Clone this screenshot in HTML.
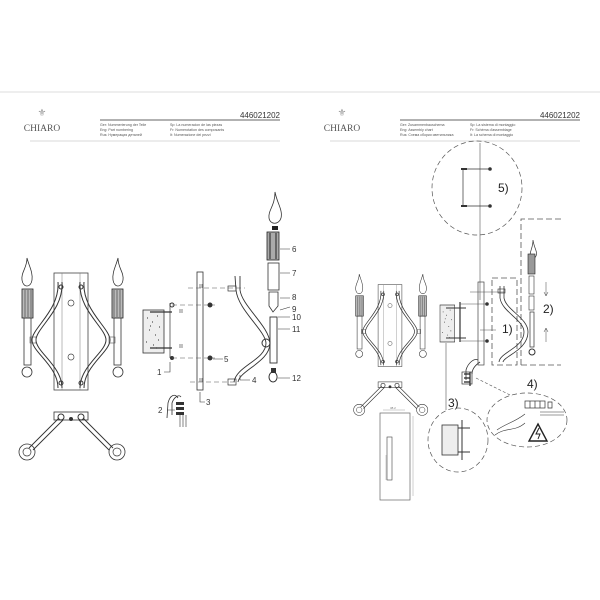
<!DOCTYPE html>
<html><head><meta charset="utf-8"><style>html,body{margin:0;padding:0;background:#fff}svg{display:block}</style></head>
<body>
<svg width="600" height="600" viewBox="0 0 600 600" xmlns="http://www.w3.org/2000/svg" font-family="Liberation Sans, sans-serif">
<defs>
<g id="front">
  <rect x="54" y="273" width="34" height="117" fill="none" stroke="#444" stroke-width="0.8"/>
  <line x1="62" y1="273" x2="62" y2="390" stroke="#777" stroke-width="0.5"/>
  <line x1="80" y1="273" x2="80" y2="390" stroke="#777" stroke-width="0.5"/>
  <circle cx="71" cy="303" r="3" fill="none" stroke="#444" stroke-width="0.7"/>
  <circle cx="71" cy="357" r="3" fill="none" stroke="#444" stroke-width="0.7"/>
  <path d="M58 282 C60 310,32 328,32 340 C32 352,58 366,58 388" fill="none" stroke="#333" stroke-width="1"/>
  <path d="M62 282 C64 310,36 328,36 340 C36 352,62 366,62 388" fill="none" stroke="#333" stroke-width="1"/>
  <path d="M84 282 C82 310,110 328,110 340 C110 352,84 366,84 388" fill="none" stroke="#333" stroke-width="1"/>
  <path d="M80 282 C78 310,106 328,106 340 C106 352,80 366,80 388" fill="none" stroke="#333" stroke-width="1"/>
  <circle cx="61" cy="287" r="2" fill="none" stroke="#333"/><circle cx="81" cy="287" r="2" fill="none" stroke="#333"/>
  <circle cx="61" cy="383" r="2" fill="none" stroke="#333"/><circle cx="81" cy="383" r="2" fill="none" stroke="#333"/>
  <g id="cand">
    <path d="M27 258 C29 266,33 272,32 280 C31 288,23 288,22 280 C21 272,27 268,27 258Z" fill="none" stroke="#333" stroke-width="0.8"/>
    <rect x="22" y="289" width="11" height="29" fill="#bbb" stroke="#222" stroke-width="0.8"/>
    <line x1="25" y1="290" x2="25" y2="317" stroke="#333" stroke-width="0.6"/><line x1="28" y1="290" x2="28" y2="317" stroke="#333" stroke-width="0.6"/><line x1="31" y1="290" x2="31" y2="317" stroke="#333" stroke-width="0.6"/>
    <rect x="24" y="318" width="7" height="47" fill="none" stroke="#333" stroke-width="0.8"/>
    <circle cx="27" cy="372" r="5" fill="none" stroke="#333" stroke-width="0.8"/>
    <rect x="30" y="337" width="6" height="6" fill="none" stroke="#555" stroke-width="0.6"/>
  </g>
  <use href="#cand" transform="translate(145,0) scale(-1,1)"/>
</g>
<g id="bottom">
  <rect x="54" y="412" width="34" height="8" fill="none" stroke="#333" stroke-width="0.8"/>
  <circle cx="61" cy="417" r="3" fill="none" stroke="#333"/><circle cx="81" cy="417" r="3" fill="none" stroke="#333"/><circle cx="71" cy="419" r="2" fill="#333"/>
  <path d="M59 418 L29 448 M63 420 L33 450 M83 418 L113 448 M79 420 L109 450" stroke="#333" stroke-width="0.9"/>
  <circle cx="27" cy="452" r="8" fill="none" stroke="#333" stroke-width="0.8"/><circle cx="27" cy="452" r="4" fill="none" stroke="#333" stroke-width="0.7"/>
  <circle cx="117" cy="452" r="8" fill="none" stroke="#333" stroke-width="0.8"/><circle cx="117" cy="452" r="4" fill="none" stroke="#333" stroke-width="0.7"/>
</g>
<g id="box">
  <rect x="143" y="310" width="21" height="43" fill="#eee" stroke="#333" stroke-width="0.8"/>
  <path d="M147 318h1M152 322h1M157 316h1M149 330h1M155 335h1M159 327h1M146 342h1M153 345h1M158 340h1M150 326h1M156 348h1" stroke="#555" stroke-width="1.2"/>
</g>
<g id="head">
  <line x1="0" y1="92" x2="300" y2="92" stroke="#ddd" stroke-width="1"/>
  <text x="42" y="116" font-size="10" fill="#999" text-anchor="middle">⚜</text>
  <text x="42" y="131" font-size="9.5" fill="#555" text-anchor="middle" font-family="Liberation Serif, serif">CHIARO</text>
  <line x1="100" y1="120" x2="280" y2="120" stroke="#333" stroke-width="0.8"/>
  <text x="280" y="118" font-size="8" fill="#333" text-anchor="end">446021202</text>
  <line x1="30" y1="141" x2="280" y2="141" stroke="#ccc" stroke-width="0.7"/>
</g>
</defs>

<use href="#head"/>
<text font-size="3.6" fill="#555"><tspan x="100" y="126">Ger: Nummerierung der Teile</tspan><tspan x="100" y="131">Eng: Part numbering</tspan><tspan x="100" y="136">Rus: Нумерация деталей</tspan><tspan x="170" y="126">Sp: La numeracion de las piezas</tspan><tspan x="170" y="131">Fr: Numerotation des composants</tspan><tspan x="170" y="136">It: Numerazione dei pezzi</tspan></text>
<use href="#head" transform="translate(300,0)"/>
<text font-size="3.6" fill="#555"><tspan x="400" y="126">Ger: Zusammenbauschema</tspan><tspan x="400" y="131">Eng: Assembly chart</tspan><tspan x="400" y="136">Rus: Схема сборки светильника</tspan><tspan x="470" y="126">Sp: La sistema di montaggio</tspan><tspan x="470" y="131">Fr: Schéma d'assemblage</tspan><tspan x="470" y="136">It: La schema di montaggio</tspan></text>

<!-- left page -->
<use href="#front"/>
<use href="#bottom"/>
<!-- exploded -->
<rect x="197" y="272" width="6" height="118" fill="none" stroke="#333" stroke-width="0.8"/>
<use href="#box"/>
<line x1="170" y1="303" x2="170" y2="358" stroke="#333" stroke-width="0.7"/>
<circle cx="172" cy="305" r="2" fill="none" stroke="#333"/><circle cx="172" cy="358" r="2" fill="#333"/>
<path d="M150 312h22M150 348h22" stroke="#333" stroke-width="1.2"/>
<g stroke="#555" stroke-width="0.6" stroke-dasharray="5,3" fill="none">
  <line x1="188" y1="288" x2="245" y2="288"/><line x1="172" y1="305" x2="215" y2="305"/><line x1="172" y1="358" x2="215" y2="358"/><line x1="190" y1="382" x2="235" y2="382"/>
</g>
<circle cx="210" cy="305" r="2.5" fill="#333"/><circle cx="210" cy="358" r="2.5" fill="#333"/>
<path d="M180 313v-4M182 313v-4M180 348v-4M182 348v-4M200 288v-4M202 288v-4M200 382v-4M202 382v-4" stroke="#333" stroke-width="0.6"/>
<path d="M235 276 L236 290 C238 310,265 330,266 343 C266 360,236 366,234 382" fill="none" stroke="#333" stroke-width="0.9"/>
<path d="M240 276 L240 290 C242 306,269 326,270 343 C270 362,240 370,238 382" fill="none" stroke="#333" stroke-width="0.9"/>
<rect x="228" y="286" width="8" height="5" fill="none" stroke="#333" stroke-width="0.7"/><rect x="228" y="379" width="8" height="6" fill="none" stroke="#333" stroke-width="0.7"/>
<circle cx="266" cy="343" r="4" fill="none" stroke="#333"/>
<path d="M275 192 C277 203,283 210,281 218 C279 225,270 225,269 218 C268 210,275 206,275 192Z" fill="none" stroke="#333" stroke-width="0.8"/>
<rect x="272" y="226" width="6" height="4" fill="#222"/>
<rect x="267" y="232" width="12" height="28" fill="#aaa" stroke="#222" stroke-width="0.8"/>
<line x1="270" y1="233" x2="270" y2="259" stroke="#222"/><line x1="276" y1="233" x2="276" y2="259" stroke="#222"/>
<rect x="268" y="263" width="11" height="27" fill="none" stroke="#333" stroke-width="0.8"/>
<path d="M269 292 L278 292 L278 306 L273 312 L269 306Z" fill="none" stroke="#333" stroke-width="0.8"/>
<rect x="270" y="317" width="7" height="46" fill="none" stroke="#333" stroke-width="0.9"/>
<path d="M273 372 a4 5 0 1 0 0.1 0" fill="none" stroke="#333"/><rect x="271" y="368" width="5" height="5" fill="#333"/>
<path d="M178 398 c-3 -5,-8 -3,-10 5 l-1 15 M181 397 c-2 -3,-7 0,-9 6 l0 12" fill="none" stroke="#333" stroke-width="0.8"/>
<rect x="176" y="402" width="8" height="3" fill="#333"/><rect x="176" y="407" width="8" height="3" fill="#333"/><rect x="176" y="412" width="8" height="3" fill="#333"/>
<path d="M180 415v12M183 415v12M186 415v12" stroke="#333" stroke-width="0.6"/>
<g stroke="#333" stroke-width="0.6" fill="none">
  <path d="M280 249h10M280 273h10M280 298h10M280 310l10 -3M278 317l12 0M278 329h12M278 378h12M213 359h10M240 375 v5 h10M200 392 v10 h5M167 410h8M170 362 v10 h-6"/>
</g>
<g font-size="8" fill="#333">
  <text x="292" y="252">6</text><text x="292" y="276">7</text><text x="292" y="300">8</text><text x="292" y="312">9</text><text x="292" y="320">10</text><text x="292" y="332">11</text><text x="292" y="381">12</text>
  <text x="224" y="362">5</text><text x="252" y="383">4</text><text x="206" y="405">3</text><text x="158" y="413">2</text><text x="157" y="375">1</text>
</g>

<!-- right page -->
<g transform="translate(340.3,93.5) scale(0.7)"><use href="#front"/><use href="#bottom"/></g>
<!-- dimension drawing -->
<rect x="380" y="413" width="30" height="87" fill="none" stroke="#666" stroke-width="0.7"/>
<rect x="387" y="437" width="5" height="43" fill="none" stroke="#444" stroke-width="0.6"/>
<path d="M383 410h22M413 416v80M386 455v25" stroke="#888" stroke-width="0.4"/>
<text x="390" y="409" font-size="3" fill="#777">38.2</text>
<!-- circle 5 -->
<ellipse cx="477" cy="188" rx="45" ry="47" fill="none" stroke="#555" stroke-width="0.7" stroke-dasharray="5,3"/>
<line x1="480" y1="143" x2="480" y2="300" stroke="#555" stroke-width="0.6"/>
<path d="M463 169v37M463 169h27M463 206h27" fill="none" stroke="#333" stroke-width="0.7"/>
<circle cx="490" cy="169" r="1.8" fill="#333"/><circle cx="490" cy="206" r="1.8" fill="#333"/><rect x="461" y="168" width="6" height="2" fill="#333"/><rect x="461" y="205" width="6" height="2" fill="#333"/>
<text x="498" y="192" font-size="12" fill="#222">5)</text>
<!-- exploded small -->
<rect x="478" y="282" width="6" height="83" fill="none" stroke="#444" stroke-width="0.7"/>
<g transform="translate(440,305) scale(0.7,0.86) translate(-143,-310)"><use href="#box"/></g>
<path d="M460 302v40" stroke="#333" stroke-width="1.2"/>
<path d="M446 308h20M446 338h20" stroke="#333" stroke-width="1"/>
<path d="M460 304h28M460 341h28M470 292h34M480 330h16" stroke="#555" stroke-width="0.5"/>
<circle cx="487" cy="304" r="1.8" fill="#333"/><circle cx="487" cy="341" r="1.8" fill="#333"/>
<g stroke="#555" stroke-width="0.8" stroke-dasharray="6,3" fill="none">
  <path d="M521 365V219h40M521 365h40"/><path d="M492 278h25v87h-25z"/>
</g>
<path d="M500 286 L500 298 C502 312,524 320,524 332 C524 348,500 352,499 362" fill="none" stroke="#333" stroke-width="0.8"/>
<path d="M504 286 L504 298 C506 310,528 318,528 332 C528 350,504 356,503 362" fill="none" stroke="#333" stroke-width="0.8"/>
<rect x="498" y="289" width="7" height="4" fill="none" stroke="#333" stroke-width="0.6"/>
<text x="502" y="333" font-size="12" fill="#222">1)</text>
<path d="M533 240 C534 248,538 252,536 256 C534 260,530 260,530 256 C530 250,533 248,533 240Z" fill="none" stroke="#333" stroke-width="0.7"/>
<rect x="528" y="254" width="7" height="20" fill="#999" stroke="#222" stroke-width="0.6"/>
<rect x="529" y="276" width="5" height="18" fill="none" stroke="#333" stroke-width="0.6"/>
<rect x="529" y="296" width="5" height="14" fill="none" stroke="#333" stroke-width="0.6"/>
<rect x="530" y="312" width="4" height="35" fill="none" stroke="#333" stroke-width="0.7"/>
<circle cx="532" cy="352" r="3" fill="none" stroke="#333"/>
<path d="M546 282v14M544 292l2 4 2-4M546 328v14M544 332l2-4 2 4" stroke="#444" stroke-width="0.5" fill="none"/>
<text x="543" y="313" font-size="12" fill="#222">2)</text>
<!-- wires -->
<path d="M478 360 c-4 -2,-10 3,-12 10 l0 10 M480 362 c-3 2,-8 6,-8 12" fill="none" stroke="#333" stroke-width="0.8"/>
<rect x="462" y="372" width="10" height="12" fill="none" stroke="#333" stroke-width="0.7"/>
<path d="M464 374h6M464 378h6M464 382h6M470 372v14" stroke="#222" stroke-width="1.2"/>
<line x1="476" y1="378" x2="512" y2="396" stroke="#555" stroke-width="0.6" stroke-dasharray="3,2"/>
<line x1="446" y1="343" x2="446" y2="410" stroke="#555" stroke-width="0.6"/>
<!-- circle 3 -->
<ellipse cx="458" cy="440" rx="30" ry="32" fill="none" stroke="#555" stroke-width="0.7" stroke-dasharray="5,3"/>
<text x="448" y="407" font-size="12" fill="#222">3)</text>
<rect x="442" y="425" width="16" height="30" fill="#eee" stroke="#333" stroke-width="0.8"/>
<path d="M462 420v40M458 428h12M458 452h12" stroke="#333" stroke-width="1"/>
<!-- circle 4 -->
<ellipse cx="527" cy="420" rx="40" ry="27" fill="none" stroke="#555" stroke-width="0.7" stroke-dasharray="5,3"/>
<text x="527" y="388" font-size="12" fill="#222">4)</text>
<rect x="525" y="401" width="20" height="7" fill="none" stroke="#333" stroke-width="0.7"/>
<path d="M530 401v7M535 401v7M540 401v7M548 402h4v6h-4z" stroke="#333" stroke-width="0.7" fill="none"/>
<path d="M495 435 c10 -8,20 -3,30 -12 M497 430 c8 -6,18 -8,28 -16 M540 412 h24 M540 415h24" fill="none" stroke="#333" stroke-width="0.6"/>
<path d="M538 424 L547 441 L529 441Z" fill="none" stroke="#222" stroke-width="1.4"/>
<path d="M539 428 l-3 6 h4 l-2 5" fill="none" stroke="#222" stroke-width="1"/>
</svg>
</body></html>
